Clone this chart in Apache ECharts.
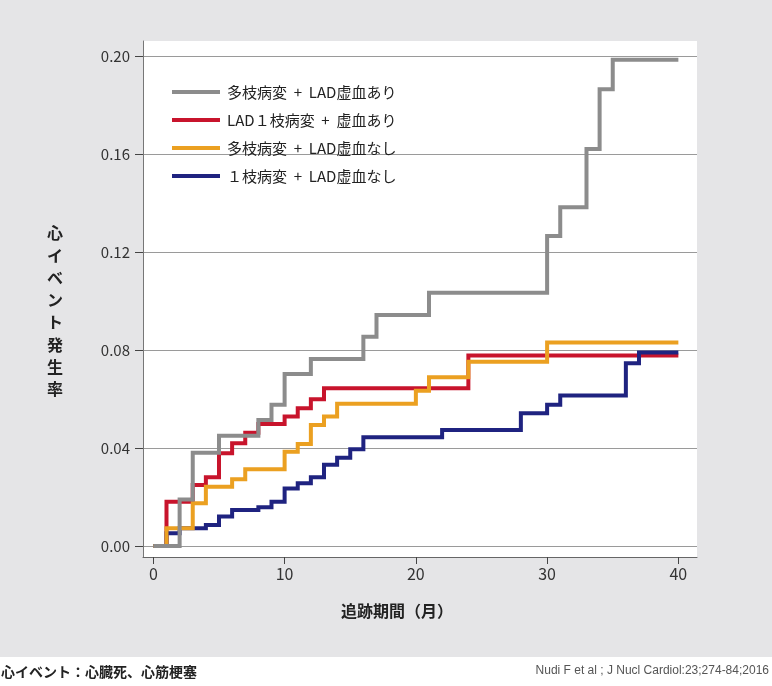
<!DOCTYPE html>
<html>
<head>
<meta charset="utf-8">
<script src="https://cdn.jsdelivr.net/npm/echarts@6/dist/echarts.min.js"></script>
<style>
html,body{margin:0;padding:0;background:#fff;}
#c{width:772px;height:686px;background:linear-gradient(#e5e5e7 0px,#e5e5e7 657px,#ffffff 657px);}
</style>
</head>
<body>
<div id="c"></div>
<script>
// ---- data ----
const seriesNames = ['多枝病変  +  LAD虚血あり', 'LAD１枝病変  +  虚血あり', '多枝病変  +  LAD虚血なし', '１枝病変  +  LAD虚血なし'];
const grayMonths = [0, 2, 3, 5, 8, 9, 10, 12, 16, 17, 21, 30, 31, 33, 34, 35, 40];
const grayRates  = [0, 0.019, 0.038, 0.045, 0.0514, 0.0576, 0.0702, 0.0763, 0.0854, 0.0943, 0.1034, 0.1265, 0.1382, 0.162, 0.1864, 0.1984, 0.1984];
const redMonths = [0, 1, 3, 4, 5, 6, 7, 8, 10, 11, 12, 13, 24, 40];
const redRates  = [0, 0.0181, 0.0249, 0.028, 0.0378, 0.0419, 0.0462, 0.0498, 0.0528, 0.0562, 0.0599, 0.0644, 0.0777, 0.0777];
const orangeMonths = [0, 1, 3, 4, 6, 7, 10, 11, 12, 13, 14, 20, 21, 24, 30, 40];
const orangeRates  = [0, 0.0072, 0.0174, 0.0242, 0.0272, 0.0313, 0.0385, 0.0416, 0.0494, 0.0528, 0.058, 0.0634, 0.0689, 0.0752, 0.083, 0.083];
const blueMonths = [0, 1, 2, 4, 5, 6, 8, 9, 10, 11, 12, 13, 14, 15, 16, 22, 28, 30, 31, 36, 37, 40];
const blueRates  = [0, 0.0052, 0.0072, 0.0086, 0.012, 0.0147, 0.0158, 0.0181, 0.0235, 0.0256, 0.028, 0.0331, 0.036, 0.0395, 0.0444, 0.0473, 0.0542, 0.0576, 0.0614, 0.0746, 0.079, 0.079];
const xTicks = [0, 10, 20, 30, 40];
const yTicks = [0, 0.04, 0.08, 0.12, 0.16, 0.20];
const yTitle = '心イベント発生率';
const xTitle = '追跡期間（月）';
const footLeft = '心イベント：心臓死、心筋梗塞';
const footRight = 'Nudi F et al ; J Nucl Cardiol:23;274-84;2016';

const pair = (xs, ys) => xs.map((x, i) => [x, ys[i]]);
const FONT = '"Noto Sans CJK JP", "Noto Sans", sans-serif';

const chart = echarts.init(document.getElementById('c'), null, {renderer: 'canvas'});
function mk(name, xs, ys, color, z) {
  return {
    name: name, type: 'line', step: 'end', symbol: 'none', z: z,
    data: pair(xs, ys),
    lineStyle: {color: color, width: 4, cap: 'butt', join: 'miter'},
    itemStyle: {color: color},
    silent: true, animation: false
  };
}
chart.setOption({
  animation: false,
  backgroundColor: 'transparent',
  textStyle: {fontFamily: FONT},
  grid: {left: 143, top: 41, width: 554, height: 516, show: true, backgroundColor: '#ffffff', borderWidth: 0},
  legend: {
    data: seriesNames,
    orient: 'vertical', left: 172, top: 83, padding: 0,
    itemWidth: 48, itemHeight: 4, itemGap: 10, icon: 'rect',
    textStyle: {fontSize: 15, lineHeight: 18, color: '#222', fontFamily: FONT, padding: [0, 0, 0, 2]},
    selectedMode: false
  },
  xAxis: {
    type: 'value', min: -0.79, max: 41.42,
    axisLine: {show: true, onZero: false, lineStyle: {color: '#666', width: 1}},
    axisTick: {show: true, customValues: xTicks, length: 7, inside: false, lineStyle: {color: '#444'}},
    axisLabel: {customValues: xTicks, fontSize: 16, color: '#333', margin: 9, fontFamily: FONT},
    splitLine: {show: false}
  },
  yAxis: {
    type: 'value', min: -0.0045, max: 0.2061,
    axisLine: {show: true, onZero: false, lineStyle: {color: '#777', width: 1}},
    axisTick: {show: true, customValues: yTicks, length: 8, lineStyle: {color: '#444'}},
    axisLabel: {customValues: yTicks, fontSize: 15, color: '#333', margin: 13, fontFamily: FONT,
      formatter: v => v.toFixed(2)},
    splitLine: {show: true, lineStyle: {color: '#9a9a9a', width: 1}}
  },
  series: [
    mk(seriesNames[1], redMonths, redRates, '#c8142c', 2),
    mk(seriesNames[3], blueMonths, blueRates, '#1f2380', 3),
    mk(seriesNames[2], orangeMonths, orangeRates, '#eba021', 4),
    mk(seriesNames[0], grayMonths, grayRates, '#8c8c8c', 5)
  ],
  graphic: [
    {type: 'text', left: 47, top: 222, style: {text: yTitle.split('').join('\n'), font: 'bold 16px ' + FONT, lineHeight: 22.3, fill: '#222', align: 'center'}},
    {type: 'text', x: 397, y: 611, style: {text: xTitle, font: 'bold 16px ' + FONT, fill: '#222', align: 'center', verticalAlign: 'middle'}},
    {type: 'text', x: 1, y: 672, style: {text: footLeft, font: 'bold 14px ' + FONT, fill: '#222', verticalAlign: 'middle'}},
    {type: 'text', x: 769, y: 671, style: {text: footRight, font: '12px "Liberation Sans Narrow", "Liberation Sans", sans-serif', fill: '#555', align: 'right', verticalAlign: 'middle'}}
  ]
});
</script>
</body>
</html>
